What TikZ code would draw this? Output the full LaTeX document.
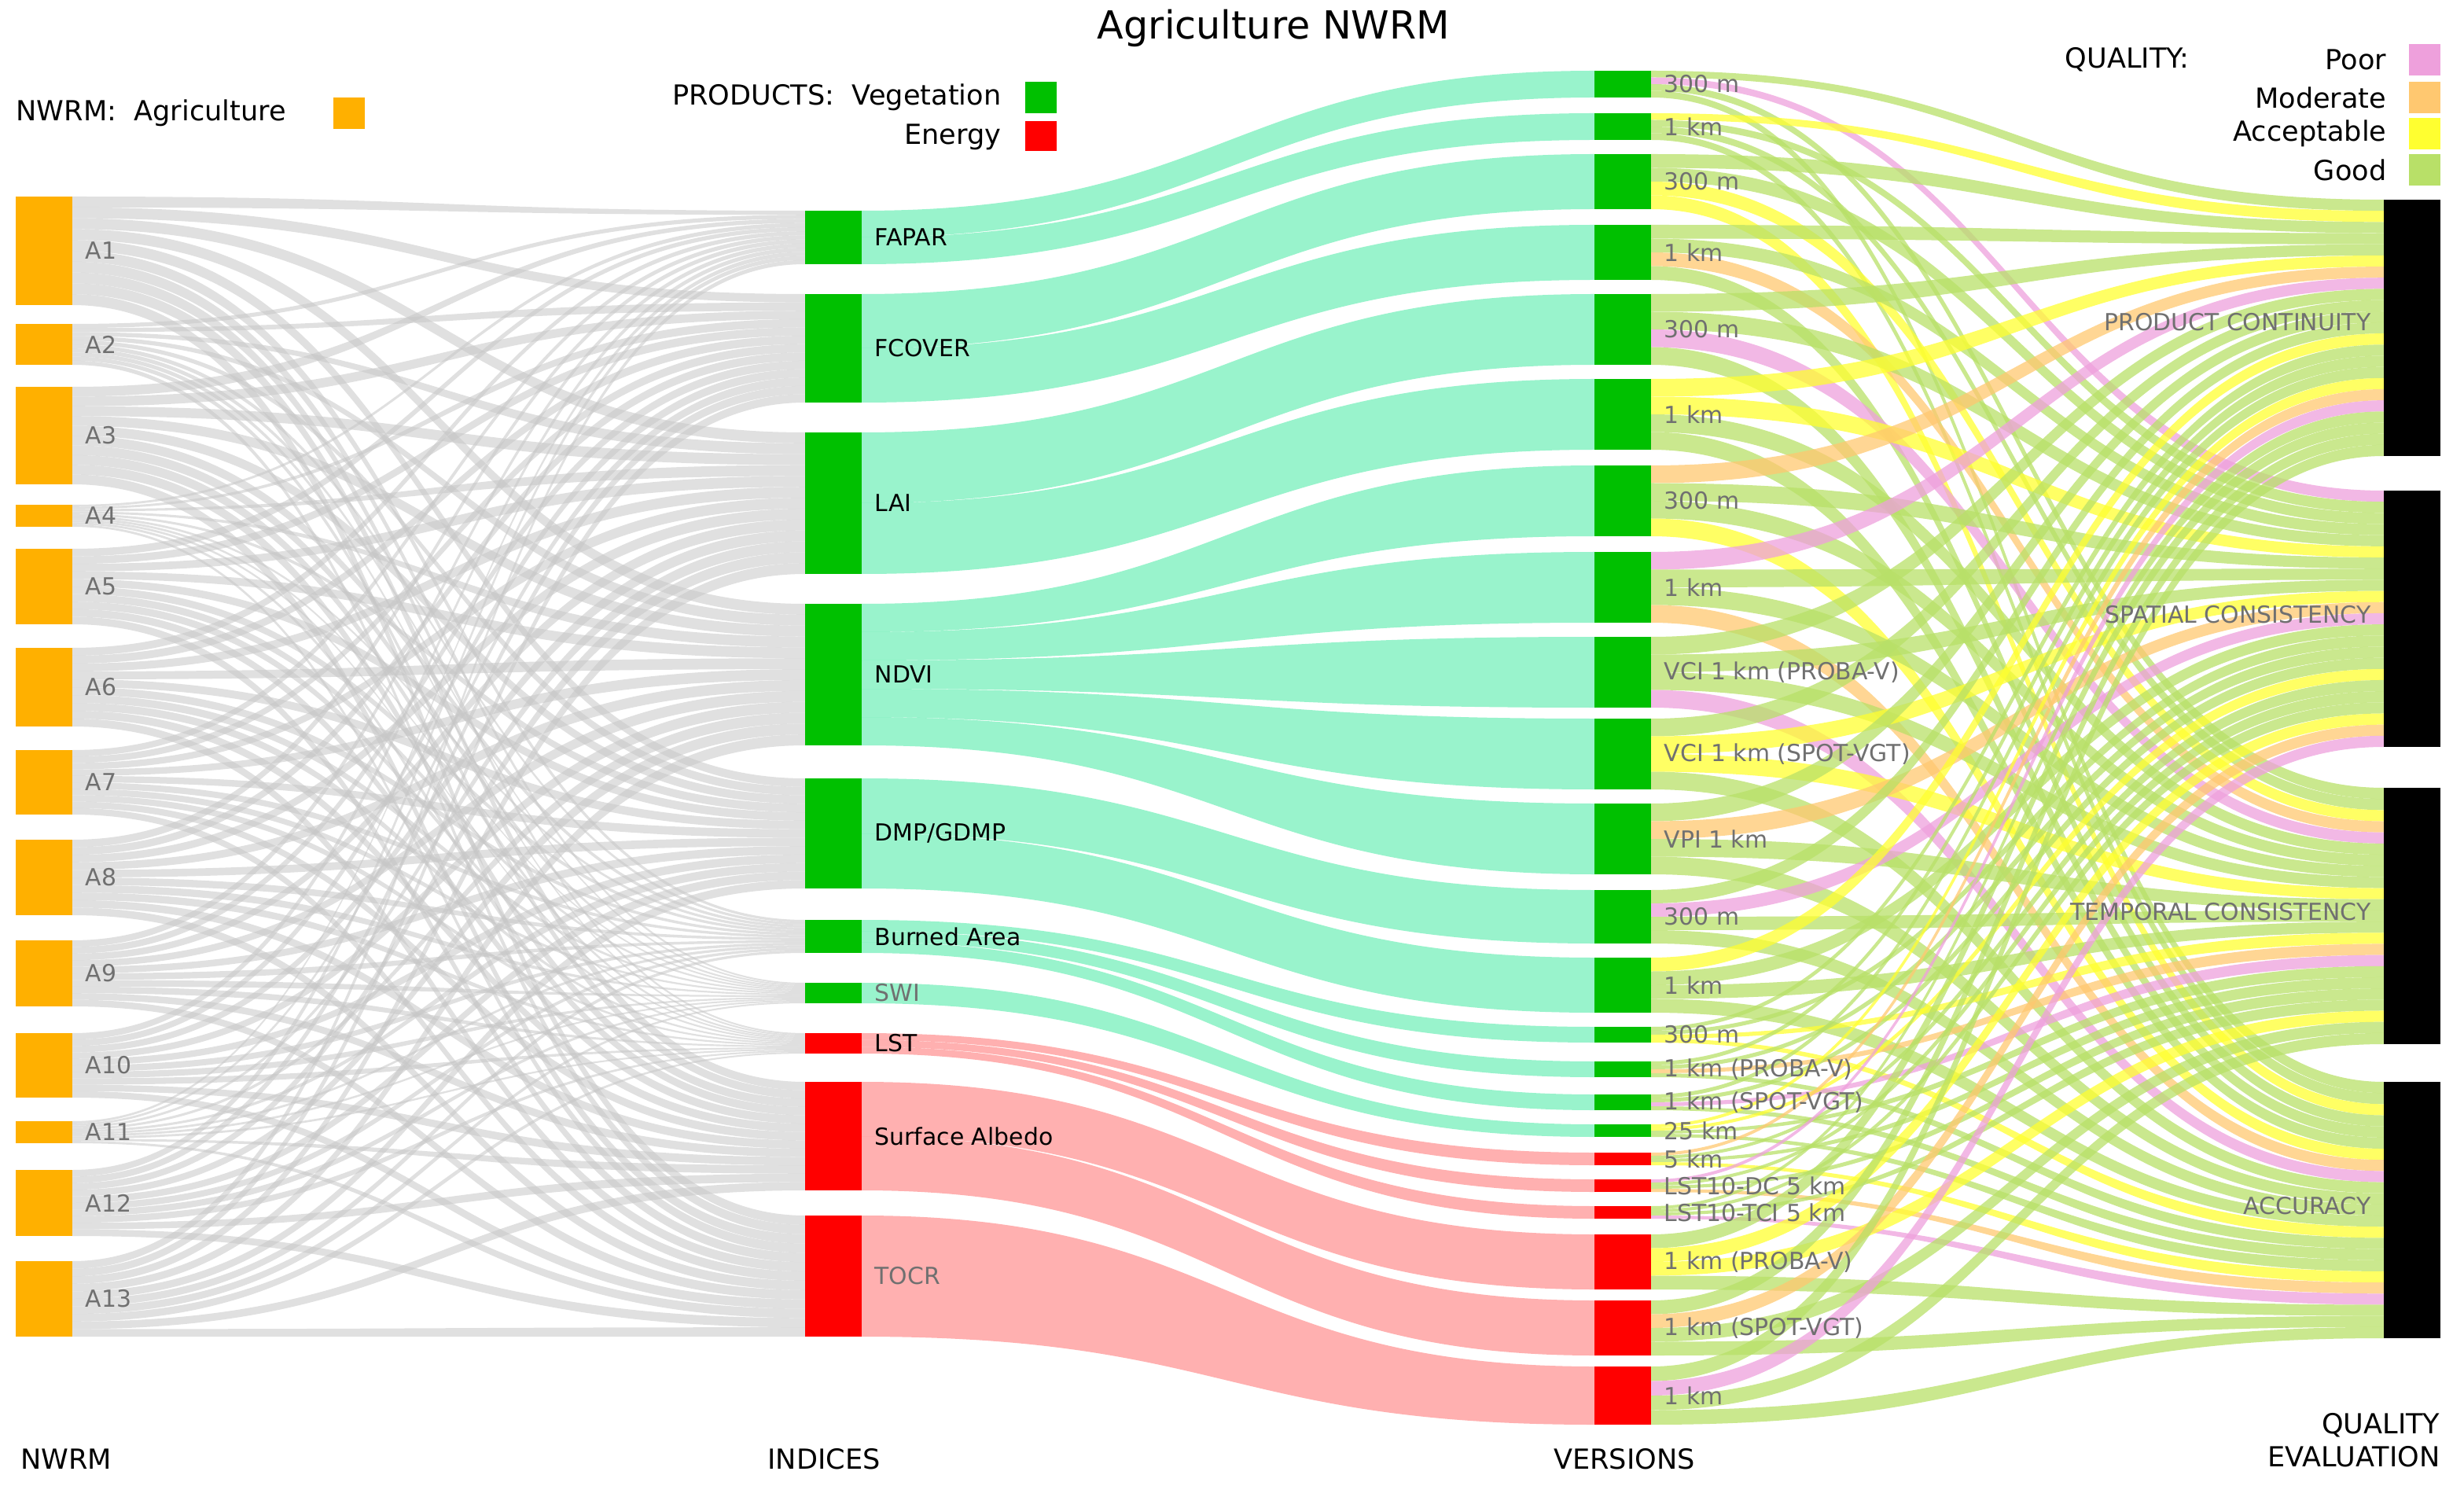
\documentclass[tikz,border=0pt]{standalone}
\usepackage{fontspec}
\setmainfont{DejaVu Sans}
\usetikzlibrary{positioning}
\definecolor{nwrm}{HTML}{FFB000}
\definecolor{veg}{HTML}{00C000}
\definecolor{ener}{HTML}{FF0000}
\definecolor{vegflow}{HTML}{00E080}
\definecolor{enerflow}{HTML}{FF5050}
\definecolor{good}{HTML}{B8E068}
\definecolor{acceptable}{HTML}{FFFF30}
\definecolor{poor}{HTML}{EEA0DC}
\definecolor{moderate}{HTML}{FFC870}
\definecolor{lbl}{HTML}{707070}

% ribbon between two vertical edges
\newcommand\flow[7]{\fill[#7] (#1,#2) .. controls ({(#1+#4)/2},#2) and ({(#1+#4)/2},#5) .. (#4,#5) -- (#4,#6) .. controls ({(#1+#4)/2},#6) and ({(#1+#4)/2},#3) .. (#1,#3) -- cycle;}

\begin{document}
\begin{tikzpicture}[x=0.02cm, y=-0.02cm,
  lab/.style={font=\fontsize{8.5}{10}\selectfont, text=lbl, anchor=west, inner sep=0pt},
  idx/.style={font=\fontsize{8.5}{10}\selectfont, anchor=west, inner sep=0pt},
  head/.style={font=\fontsize{10}{12}\selectfont, inner sep=0pt},
  greyflow/.style={fill=gray!45, opacity=0.55},
  qflow/.style={fill=#1, opacity=0.75}]
\useasboundingbox (0,0) rectangle (1567,945);

\def\At{{125,206,246,321,349,412,477,534,598,657,713,744,802}}
\def\Ah{{69,26,62,14,48,50,41,48,42,41,14,42,48}}
\def\It{{134,187,275,384,495,585,625,657,688,773}}
\def\Ih{{34,69,90,90,70,21,13,13,69,77}}
\def\Vt{{45,72,98,143,187,241,296,351,405,457,511,566,609,653,675,696,715,733,750,767,785,827,869}}
\def\Vh{{17,17,35,35,45,45,45,45,45,45,45,34,35,10,10,10,8,8,8,8,35,35,37}}
\def\Qt{{127,312,501,688}}
\def\Qc{{"good","good","acceptable","good","good","poor","good","acceptable","good","moderate","good"}}

% NWRM -> indices
\foreach \i in {0,...,12}{
  \foreach \j in {0,...,9}{
    \pgfmathsetmacro\aa{\At[\i]+\j*\Ah[\i]/10}
    \pgfmathsetmacro\ab{\aa+\Ah[\i]/10}
    \pgfmathsetmacro\ba{\It[\j]+\i*\Ih[\j]/13}
    \pgfmathsetmacro\bb{\ba+\Ih[\j]/13}
    \flow{46}{\aa}{\ab}{512}{\ba}{\bb}{greyflow}
  }
}

% indices -> versions
\foreach \s/\k/\n/\v in {0/0/2/0,0/1/2/1,1/0/2/2,1/1/2/3,2/0/2/4,2/1/2/5,
    3/0/5/6,3/1/5/7,3/2/5/8,3/3/5/9,3/4/5/10,4/0/2/11,4/1/2/12,
    5/0/3/13,5/1/3/14,5/2/3/15,6/0/1/16,7/0/3/17,7/1/3/18,7/2/3/19,
    8/0/2/20,8/1/2/21,9/0/1/22}{
  \pgfmathsetmacro\aa{\It[\s]+\k*\Ih[\s]/\n}
  \pgfmathsetmacro\ab{\aa+\Ih[\s]/\n}
  \pgfmathsetmacro\ba{\Vt[\v]}
  \pgfmathsetmacro\bb{\Vt[\v]+\Vh[\v]}
  \ifnum\s<7
    \flow{548}{\aa}{\ab}{1014}{\ba}{\bb}{fill=vegflow, opacity=0.4}
  \else
    \flow{548}{\aa}{\ab}{1014}{\ba}{\bb}{fill=enerflow, opacity=0.45}
  \fi
}

% versions -> quality
\foreach \v in {0,...,22}{
  \foreach \q in {0,...,3}{
    \pgfmathsetmacro\aa{\Vt[\v]+\q*\Vh[\v]/4}
    \pgfmathsetmacro\ab{\aa+\Vh[\v]/4}
    \pgfmathsetmacro\ba{\Qt[\q]+\v*163/23}
    \pgfmathsetmacro\bb{\ba+163/23}
    \pgfmathtruncatemacro\c{mod(\v*7+\q*5,11)}
    \pgfmathsetmacro\col{\Qc[\c]}
    \flow{1050}{\aa}{\ab}{1516}{\ba}{\bb}{qflow=\col}
  }
}

% NWRM nodes
\foreach \i [evaluate=\i as \n using int(\i+1)] in {0,...,12}{
  \pgfmathsetmacro\ta{\At[\i]}
  \pgfmathsetmacro\ha{\Ah[\i]}
  \fill[nwrm] (10,\ta) rectangle (46,\ta+\ha);
  \node[lab] (a\n) at (54,\ta+\ha/2) {A\n};
}

% indices nodes
\foreach \j/\name/\c in {0/FAPAR/black,1/FCOVER/black,2/LAI/black,3/NDVI/black,
    4/DMP\slash GDMP/black,5/Burned Area/black,6/SWI/lbl,7/LST/black,
    8/Surface Albedo/black,9/TOCR/lbl}{
  \pgfmathsetmacro\ta{\It[\j]}
  \pgfmathsetmacro\ha{\Ih[\j]}
  \ifnum\j<7 \fill[veg] (512,\ta) rectangle (548,\ta+\ha);
  \else \fill[ener] (512,\ta) rectangle (548,\ta+\ha); \fi
  \node[idx, text=\c] (i\j) at (556,\ta+\ha/2) {\name};
}

% versions nodes
\foreach \v/\name in {0/300 m,1/1 km,2/300 m,3/1 km,4/300 m,5/1 km,6/300 m,7/1 km,
    8/VCI 1 km (PROBA-V),9/VCI 1 km (SPOT-VGT),10/VPI 1 km,11/300 m,12/1 km,
    13/300 m,14/1 km (PROBA-V),15/1 km (SPOT-VGT),16/25 km,17/5 km,
    18/LST10-DC 5 km,19/LST10-TCI 5 km,20/1 km (PROBA-V),21/1 km (SPOT-VGT),22/1 km}{
  \pgfmathsetmacro\ta{\Vt[\v]}
  \pgfmathsetmacro\ha{\Vh[\v]}
  \ifnum\v<17 \fill[veg] (1014,\ta) rectangle (1050,\ta+\ha);
  \else \fill[ener] (1014,\ta) rectangle (1050,\ta+\ha); \fi
  \node[lab] (v\v) at (1058,\ta+\ha/2) {\name};
}

% quality nodes
\foreach \q/\name/\y in {0/PRODUCT CONTINUITY/205,1/SPATIAL CONSISTENCY/391,
    2/TEMPORAL CONSISTENCY/580,3/ACCURACY/767}{
  \pgfmathsetmacro\ta{\Qt[\q]}
  \fill[black] (1516,\ta) rectangle (1552,\ta+163);
  \node[lab, anchor=east] (q\q) at (1508,\y) {\name};
}

% title and legends
\node[head, font=\fontsize{14}{16}\selectfont] (title) at (810,18) {Agriculture NWRM};
\node[head, anchor=west] (lgn) at (10,72) {NWRM:\ \ Agriculture};
\fill[nwrm] (212,62) rectangle (232,82);
\node[head, anchor=east] (lgveg) at (637,62) {PRODUCTS:\ \ Vegetation};
\fill[veg] (652,52) rectangle (672,72);
\node[head, anchor=east] (lgen) at (637,87) {Energy};
\fill[ener] (652,77) rectangle (672,96);
\node[head, anchor=west] (lgq) at (1313,38) {QUALITY:};
\foreach \name/\c/\y in {Poor/poor/38,Moderate/moderate/62,Acceptable/acceptable/85,Good/good/108}{
  \node[head, anchor=east] at (1518,\y) {\name};
  \fill[\c] (1532,\y-10) rectangle (1552,\y+10);
}

% column titles
\node[head] (cn) at (42,928) {NWRM};
\node[head] (ci) at (524,928) {INDICES};
\node[head] (cv) at (1033,928) {VERSIONS};
\node[head, anchor=east, align=right] (cq) at (1552,916) {QUALITY\\EVALUATION};
\end{tikzpicture}
\end{document}
